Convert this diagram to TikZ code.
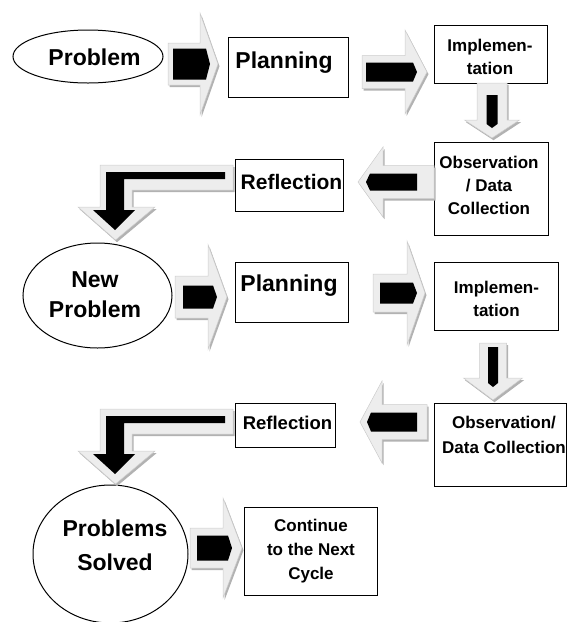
\documentclass[tikz,border=0pt]{standalone}
\usepackage{fontspec}
\setmainfont{Liberation Sans}
\usetikzlibrary{shapes.geometric}

\tikzset{
  box/.style={draw, line width=1.1pt, rectangle, inner sep=0pt, anchor=north west},
  oval/.style={draw, line width=1pt, ellipse, inner sep=0pt},
  big/.style={font=\bfseries\fontsize{23}{30}\selectfont, align=center, inner sep=0pt},
  small/.style={font=\bfseries\fontsize{17}{23}\selectfont, align=center, inner sep=0pt},
  arrowfill/.style={fill=black!7, draw=black!20, line width=0.5pt},
  arrowshade/.style={fill=black!30},
}

% Block arrow: #1 tip, #2 direction, #3 total length, #4 head length,
% #5 half width of the shaft, #6 half width of the head,
% #7/#8 start/end of the black bar (distance behind the tip), #9 its half width
\newcommand\blockarr[9]{%
  \begin{scope}[shift={#1}, shift={(1.5,2.2)}, rotate=#2]
    \fill[arrowshade] (0,0) -- (-#4,#6) -- (-#4,#5) -- (-#3,#5) -- (-#3,-#5)
      -- (-#4,-#5) -- (-#4,-#6) -- cycle;
  \end{scope}
  \begin{scope}[shift={#1}, rotate=#2]
    \filldraw[arrowfill] (0,0) -- (-#4,#6) -- (-#4,#5) -- (-#3,#5) -- (-#3,-#5)
      -- (-#4,-#5) -- (-#4,-#6) -- cycle;
    \fill[black] (-#7,#9) -- ({-#8-4},#9) -- (-#8,0) -- ({-#8-4},-#9)
      -- (-#7,-#9) -- cycle;
  \end{scope}}

% Bent arrow from a reflection box down to the next oval; #1 vertical offset
\newcommand\bentarr[1]{%
  \begin{scope}[shift={(1.5,{#1+2.2})}]
    \fill[arrowshade] (233,165) -- (100,165) -- (100,207) -- (78,207) -- (115.5,240)
      -- (155,207) -- (132,207) -- (132,190) -- (233,190) -- cycle;
  \end{scope}
  \begin{scope}[shift={(0,#1)}]
    \filldraw[arrowfill] (233,165) -- (100,165) -- (100,207) -- (78,207) -- (115.5,240)
      -- (155,207) -- (132,207) -- (132,190) -- (233,190) -- cycle;
    \fill[black] (225,172) -- (106,172) -- (106,210) -- (93,210) -- (115,230)
      -- (135,210) -- (124,210) -- (124,179) -- (225,179) -- cycle;
  \end{scope}}

\begin{document}
\begin{tikzpicture}[x=1pt, y=-1pt]
\useasboundingbox (0,0) rectangle (568,622);

% first cycle
\node[oval, minimum width=150pt, minimum height=53pt] (prob) at (88,56.5) {};
\node[big] (prob-t) at (94.5,57) {Problem};
\node[box, minimum width=120pt, minimum height=60pt] (plan1) at (228,37) {};
\node[big] (plan1-t) at (284,63) {Planning};
\node[box, minimum width=113pt, minimum height=58pt] (impl1) at (434,25) {};
\node[small] (impl1-t) at (490,56.5) {Implemen-\\tation};
\node[box, minimum width=114pt, minimum height=93pt] (obs1) at (434,142) {};
\node[small] (obs1-t) at (489,185) {Observation\\/ Data\\Collection};
\node[box, minimum width=108pt, minimum height=52pt] (refl1) at (235,159) {};
\node[font=\bfseries\fontsize{21}{25}\selectfont, inner sep=0pt] (refl1-t) at (291.5,182) {Reflection};

% second cycle
\node[oval, minimum width=149pt, minimum height=105pt] (newp) at (97.5,295.5) {};
\node[big] (newp-t) at (95,295) {New\\Problem};
\node[box, minimum width=113pt, minimum height=60pt] (plan2) at (235,262) {};
\node[big] (plan2-t) at (289,286) {Planning};
\node[box, minimum width=124pt, minimum height=68pt] (impl2) at (434,262) {};
\node[small] (impl2-t) at (496.5,298.5) {Implemen-\\tation};
\node[box, minimum width=132pt, minimum height=83pt] (obs2) at (434,403) {};
\node[small, font=\bfseries\fontsize{17}{25}\selectfont] (obs2-t) at (504,434.5) {Observation/\\Data Collection};
\node[box, minimum width=100pt, minimum height=44pt] (refl2) at (235,403) {};
\node[font=\bfseries\fontsize{18.5}{22}\selectfont, inner sep=0pt] (refl2-t) at (287.5,423) {Reflection};

% end of the cycles
\node[oval, minimum width=155pt, minimum height=138pt] (solved) at (110.5,554) {};
\node[big, font=\bfseries\fontsize{23}{34}\selectfont] (solved-t) at (115,545) {Problems\\Solved};
\node[box, minimum width=133pt, minimum height=88pt] (next) at (244,507) {};
\node[small, font=\bfseries\fontsize{17}{24}\selectfont] (next-t) at (311,551) {Continue\\to the Next\\Cycle};

% block arrows between the steps
\blockarr{(218,64)}{0}{50}{18}{21}{51}{45}{8}{15.5}
\blockarr{(427,72)}{0}{65}{22}{16.5}{42}{61}{10}{9.5}
\blockarr{(492,138)}{-90}{55}{18}{15}{27.5}{43}{10}{5.5}
\blockarr{(358,182)}{180}{76}{25}{16.5}{35}{59}{8}{8.5}
\bentarr{0}
\blockarr{(227,297)}{0}{52}{19}{21}{52.5}{44}{10}{11.5}
\blockarr{(425,293)}{0}{52}{18}{19}{52}{45}{8}{10.5}
\blockarr{(493,400)}{-90}{57}{22}{13.5}{29.5}{53}{13}{5}
\blockarr{(360,422)}{180}{67}{22}{17.5}{41}{57}{7}{9.5}
\bentarr{244}
\blockarr{(242,548)}{0}{52}{19}{20}{50}{45}{10}{12.5}
\end{tikzpicture}
\end{document}
